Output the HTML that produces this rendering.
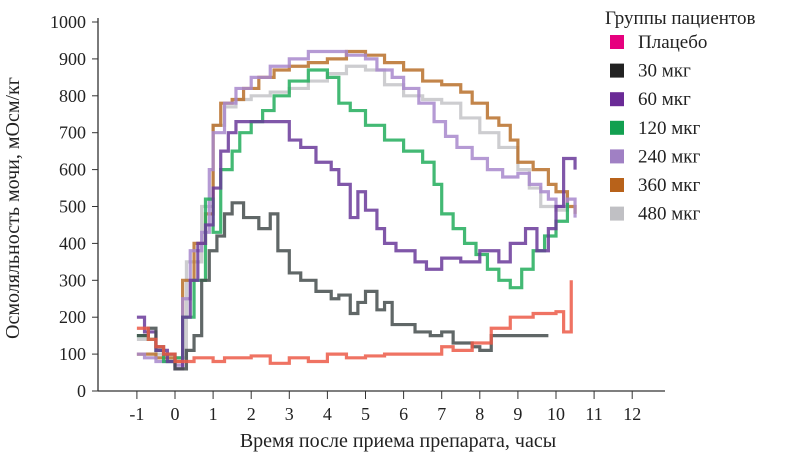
<!DOCTYPE html>
<html><head><meta charset="utf-8"><style>
body{margin:0;background:#fff;}
svg{font-family:"Liberation Serif",serif;}
</style></head><body>
<svg width="800" height="464" viewBox="0 0 800 464">
<g id="axes"></g><g id="series"></g><g id="legend"></g>
<text x="19" y="208" transform="rotate(-90 19 208)" text-anchor="middle" font-size="20" fill="#222">Осмоляльность мочи, мОсм/кг</text>
<text x="398" y="447" text-anchor="middle" font-size="20" fill="#222">Время после приема препарата, часы</text>
</svg>
<script>
const xTicks=[-1,0,1,2,3,4,5,6,7,8,9,10,11,12];
const yTicks=[0,100,200,300,400,500,600,700,800,900,1000];
const groupNames=["Плацебо","30 мкг","60 мкг","120 мкг","240 мкг","360 мкг","480 мкг"];
const placebo=[[-1,170],[-0.7,140],[-0.5,120],[-0.3,100],[0,80],[0.5,90],[1,80],[1.3,90],[2,95],[2.5,75],[3,90],[3.5,80],[4,100],[4.5,90],[5,95],[5.5,100],[7,120],[7.3,110],[7.8,130],[8.3,170],[8.8,200],[9.4,210],[10,215],[10.2,160],[10.4,300]];
const g30=[[-1,150],[-0.7,170],[-0.5,120],[-0.3,100],[0,60],[0.3,110],[0.5,150],[0.7,300],[0.9,380],[1.1,420],[1.3,480],[1.5,510],[1.8,470],[2.2,440],[2.5,480],[2.7,380],[3,320],[3.3,300],[3.7,270],[4.1,250],[4.3,260],[4.6,210],[4.8,240],[5,270],[5.3,220],[5.5,240],[5.7,180],[6.3,160],[6.7,150],[7,160],[7.3,130],[7.8,120],[8,110],[8.3,150],[9.8,150]];
const g60=[[-1,200],[-0.8,160],[-0.5,110],[-0.2,80],[0,60],[0.2,200],[0.4,300],[0.6,400],[0.8,450],[1,550],[1.2,650],[1.4,700],[1.6,730],[2.8,730],[3,680],[3.3,660],[3.7,620],[4.1,600],[4.3,560],[4.6,470],[4.8,540],[5,490],[5.3,440],[5.5,400],[5.8,380],[6.3,350],[6.6,330],[7,360],[7.5,350],[8,380],[8.5,350],[8.8,400],[9.2,440],[9.5,380],[9.8,440],[10,500],[10.2,630],[10.5,600]];
const g120=[[-1,150],[-0.7,140],[-0.5,110],[-0.3,80],[0,90],[0.2,200],[0.5,300],[0.8,520],[1,430],[1.2,600],[1.5,650],[1.7,700],[2,730],[2.3,760],[2.6,800],[3,840],[3.5,870],[4,850],[4.3,780],[4.6,760],[5,720],[5.5,680],[6,650],[6.5,620],[6.8,560],[7,480],[7.3,440],[7.6,400],[7.9,370],[8.2,330],[8.5,300],[8.8,280],[9.1,330],[9.4,380],[9.7,420],[10,460],[10.3,510]];
const g240=[[-1,100],[-0.8,90],[-0.5,80],[0,70],[0.2,250],[0.4,380],[0.7,430],[0.9,600],[1,700],[1.3,780],[1.6,820],[2,850],[2.5,880],[3,900],[3.5,920],[4.5,910],[5,900],[5.3,870],[5.7,850],[6,820],[6.4,780],[6.8,730],[7.1,690],[7.4,660],[7.8,630],[8.2,600],[8.6,580],[9,590],[9.3,560],[9.6,540],[9.8,520],[10,500],[10.3,520],[10.5,470]];
const g360=[[-1,100],[-0.5,90],[0,80],[0.2,300],[0.5,400],[0.8,480],[1,720],[1.2,780],[1.5,790],[1.8,820],[2.2,850],[2.6,870],[3,880],[3.5,890],[4,900],[4.5,920],[5,910],[5.5,890],[6,870],[6.5,840],[7,830],[7.5,810],[7.8,780],[8.2,740],[8.5,720],[8.8,680],[9,620],[9.4,600],[9.8,560],[10,540],[10.3,500],[10.5,480]];
const g480=[[-1,140],[-0.5,100],[0,90],[0.3,350],[0.7,500],[1,720],[1.3,770],[1.6,790],[2,800],[2.5,810],[3,820],[3.5,840],[4,860],[4.5,880],[5,870],[5.5,830],[6,800],[6.5,790],[7,780],[7.5,740],[8,700],[8.5,660],[9,600],[9.3,550],[9.6,500],[10,490],[10.3,500]];
const NS="http://www.w3.org/2000/svg";
const X=h=>175+h*38.1, Y=v=>391-v*0.369;
function mk(t,a,p){const e=document.createElementNS(NS,t);for(const k in a)e.setAttribute(k,a[k]);p.appendChild(e);return e;}
const ax=document.getElementById('axes');
let l=mk('line',{x1:98,y1:18,x2:98,y2:391,stroke:'#333','stroke-width':1.3},ax);


l=mk('line',{x1:98,y1:391,x2:665,y2:391,stroke:'#333','stroke-width':1.3},ax);


yTicks.forEach(v=>{mk('line',{x1:92,y1:Y(v),x2:98,y2:Y(v),stroke:'#333'},ax);
const t=mk('text',{x:86,y:Y(v)+6,'text-anchor':'end','font-size':18,fill:'#222'},ax);t.textContent=v;

});
xTicks.forEach(v=>{mk('line',{x1:X(v),y1:391,x2:X(v),y2:399,stroke:'#333'},ax);
const t=mk('text',{x:X(v),y:420,'text-anchor':'middle','font-size':18,fill:'#222'},ax);t.textContent=v;

});
const sg=document.getElementById('series');
const series=[[g480,'#c4c4c8'],[g360,'#b8702a'],[g240,'#a888cc'],[g120,'#22ad5c'],[g60,'#6a3a9a'],[g30,'#444c4c'],[placebo,'#ec5a48']];
const sNames=['series-480','series-360','series-240','series-120','series-60','series-30','series-placebo'];
series.forEach(([d,c],i)=>{let p='M'+X(d[0][0])+','+Y(d[0][1]);
for(let j=1;j<d.length;j++){p+=' H'+X(d[j][0])+' V'+Y(d[j][1]);}
const e=mk('path',{d:p,fill:'none',stroke:c,'stroke-width':3.2,'stroke-opacity':0.85},sg);

});
const lg=document.getElementById('legend');
const lt=mk('text',{x:605,y:24,'font-size':19,fill:'#222'},lg);lt.textContent='Группы пациентов';


const sw=['#e6007e','#222222','#6a2a96','#12a050','#a080c4','#b8621a','#c0c0c4'];
groupNames.forEach((n,i)=>{const y=42+i*28.6;
const r=mk('rect',{x:610,y:y-7,width:14,height:14,fill:sw[i]},lg);


const t=mk('text',{x:638,y:y+6,'font-size':19,fill:'#222'},lg);t.textContent=n;

});
</script>
</body></html>
